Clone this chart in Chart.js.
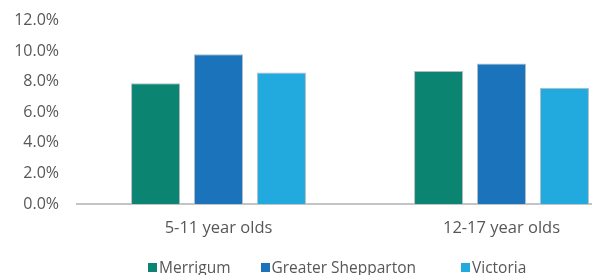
<!DOCTYPE html>
<html>
<head>
<meta charset="utf-8">
<script src="https://cdn.jsdelivr.net/npm/chart.js@4/dist/chart.umd.min.js"></script>
<style>
  html, body { margin: 0; padding: 0; background: #fff; }
  #wrap { position: relative; width: 592px; height: 275px; overflow: hidden; }
  #box { position: absolute; left: 0; top: -7px; width: 680px; height: 282px; }
  #legend {
    position: absolute; top: 256px; left: 148px;
    display: flex; align-items: center;
    font: 15.5px "Open Sans", sans-serif; color: #575757;
  }
  #legend .item { display: flex; align-items: center; margin-right: 30px; }
  #legend .item:nth-child(2) { margin-right: 45px; }
  #legend .sw { width: 9px; height: 9px; margin-right: 2px; }
</style>
</head>
<body>
<div id="wrap">
  <div id="box"><canvas id="chartCanvas" width="680" height="282"></canvas></div>
  <div id="legend"></div>
</div>
<script>
// --- Data ---
const categories = ["5-11 year olds", "12-17 year olds"];
const seriesNames = ["Merrigum", "Greater Shepparton", "Victoria"];
const merrigum = [7.9, 8.7];
const greaterShepparton = [9.8, 9.2];
const victoria = [8.6, 7.6];
const colors = ["#0b8471", "#1b74bb", "#22a9de"];

// --- Chart ---
const ctx = document.getElementById("chartCanvas").getContext("2d");
const values = [merrigum, greaterShepparton, victoria];

const chart = new Chart(ctx, {
  type: "bar",
  data: {
    labels: categories,
    datasets: seriesNames.map((name, i) => ({
      label: name,
      data: values[i],
      backgroundColor: colors[i],
      borderColor: "#b3bcc3",
      borderWidth: 1,
      barPercentage: 0.78,
      categoryPercentage: 0.667
    }))
  },
  options: {
    responsive: false,
    animation: false,
    layout: { padding: { top: 10, left: 0, right: 37, bottom: 0 } },
    plugins: {
      legend: { display: false },
      tooltip: { enabled: false }
    },
    scales: {
      x: {
        grid: { display: false, drawTicks: false },
        border: { color: "#c4c4c4", width: 2 },
        ticks: {
          padding: 14,
          color: "#575757",
          font: { family: "Open Sans", size: 16.5 }
        },
        afterFit: s => { s.height = 71; }
      },
      y: {
        min: 0,
        max: 12,
        grid: { display: false, drawTicks: false },
        border: { display: false },
        ticks: {
          stepSize: 2,
          padding: 18,
          color: "#575757",
          font: { family: "Open Sans", size: 16 },
          callback: v => v.toFixed(1) + "%"
        },
        afterFit: s => { s.width = 77; }
      }
    }
  }
});

// --- Legend ---
const legend = document.getElementById("legend");
chart.data.datasets.forEach(ds => {
  const item = document.createElement("div");
  item.className = "item";
  const sw = document.createElement("span");
  sw.className = "sw";
  sw.style.background = ds.backgroundColor;
  const txt = document.createElement("span");
  txt.textContent = ds.label;
  item.appendChild(sw);
  item.appendChild(txt);
  legend.appendChild(item);
});
</script>
</body>
</html>
